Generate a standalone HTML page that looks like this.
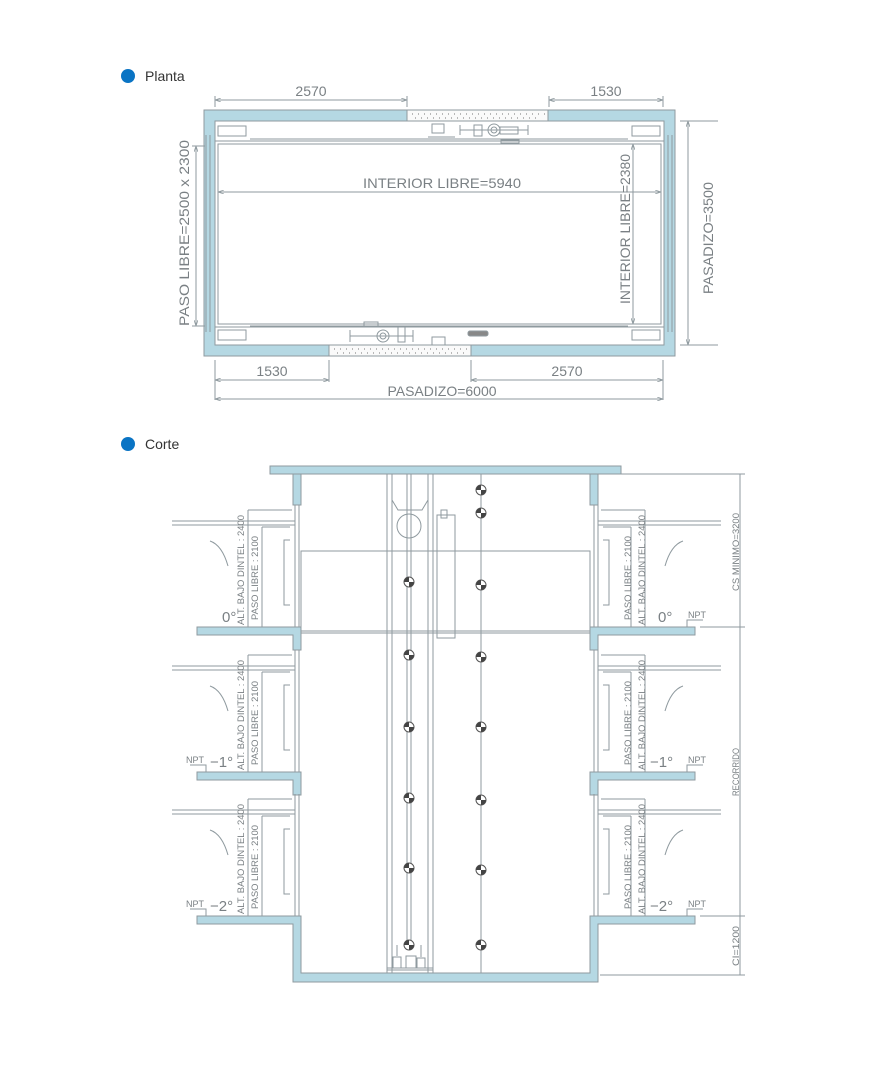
<!DOCTYPE html>
<html><head><meta charset="utf-8"><style>
html,body{margin:0;padding:0;background:#fff;}
svg{display:block}
text{font-family:"Liberation Sans",sans-serif;fill:#7a8084}
</style></head><body>
<svg width="878" height="1091" viewBox="0 0 878 1091" xmlns="http://www.w3.org/2000/svg">
<defs>
<g id="ball"><circle r="5" fill="#fff" stroke="#555"/><path d="M0,0 L5,0 A5,5 0 0 1 0,5 Z M0,0 L-5,0 A5,5 0 0 1 0,-5 Z" fill="#444"/></g>
<marker id="ar" markerWidth="6" markerHeight="4" refX="6" refY="2" orient="auto-start-reverse"><path d="M0,0 L6,2 L0,4" fill="none" stroke="#8f9a9f" stroke-width="0.8"/></marker>
</defs>
<g stroke="#8f9a9f" stroke-width="1" fill="none">
<!-- ================= PLANTA ================= -->
<circle cx="128" cy="76" r="7" fill="#0a74c4" stroke="none"/>
<text x="145" y="81" font-size="14" style="fill:#333" stroke="none">Planta</text>

<path d="M204,110 H407 V121 H215 V345 H329 V356 H204 Z" fill="#b5d8e3"/>
<path d="M548,110 H675 V356 H471 V345 H664 V121 H548 Z" fill="#b5d8e3"/>
<rect x="407" y="110" width="141" height="11" fill="#fafafa"/>
<rect x="329" y="345" width="142" height="11" fill="#fafafa"/>
<g stroke="#777" stroke-width="1" stroke-dasharray="1 5">
<line x1="412" y1="114" x2="545" y2="114"/><line x1="415" y1="118" x2="540" y2="118"/>
<line x1="334" y1="349" x2="468" y2="349"/><line x1="337" y1="353" x2="465" y2="353"/>
</g>
<rect x="218" y="126" width="28" height="10"/><rect x="632" y="126" width="28" height="10"/>
<rect x="218" y="330" width="28" height="10"/><rect x="632" y="330" width="28" height="10"/>
<rect x="215" y="141" width="449" height="186"/>
<rect x="218" y="144" width="443" height="180"/>
<line x1="250" y1="139" x2="628" y2="139"/><line x1="250" y1="326" x2="628" y2="326"/>
<line x1="206" y1="135" x2="206" y2="332"/><line x1="210" y1="135" x2="210" y2="332"/>
<line x1="668" y1="135" x2="668" y2="332"/><line x1="672" y1="135" x2="672" y2="332"/>
<rect x="432" y="124" width="12" height="9"/><line x1="428" y1="137" x2="455" y2="137"/>
<line x1="460" y1="125" x2="460" y2="135"/><line x1="528" y1="125" x2="528" y2="135"/>
<line x1="460" y1="130" x2="528" y2="130"/>
<circle cx="494" cy="130" r="6"/><circle cx="494" cy="130" r="3"/>
<rect x="474" y="125" width="8" height="11"/><rect x="500" y="127" width="18" height="7"/>
<rect x="501" y="140" width="18" height="3"/>
<rect x="364" y="322" width="14" height="4"/>
<line x1="350" y1="330" x2="350" y2="342"/><line x1="413" y1="330" x2="413" y2="342"/>
<line x1="350" y1="336" x2="413" y2="336"/>
<circle cx="383" cy="336" r="6"/><circle cx="383" cy="336" r="3"/>
<rect x="398" y="327" width="7" height="15"/>
<rect x="432" y="337" width="13" height="8"/><line x1="427" y1="327" x2="453" y2="327"/>
<rect x="468" y="331" width="20" height="5" rx="2" fill="#888"/>
<g marker-start="url(#ar)" marker-end="url(#ar)">
<line x1="215" y1="100" x2="407" y2="100"/>
<line x1="549" y1="100" x2="663" y2="100"/>
<line x1="215" y1="380" x2="329" y2="380"/>
<line x1="471" y1="380" x2="663" y2="380"/>
<line x1="215" y1="399" x2="663" y2="399"/>
<line x1="688" y1="121" x2="688" y2="345"/>
<line x1="196" y1="146" x2="196" y2="326"/>
<line x1="218" y1="192" x2="661" y2="192"/>
<line x1="633" y1="144" x2="633" y2="324"/>
</g>
<line x1="215" y1="96" x2="215" y2="107"/><line x1="407" y1="96" x2="407" y2="107"/>
<line x1="549" y1="96" x2="549" y2="107"/><line x1="663" y1="96" x2="663" y2="107"/>
<line x1="215" y1="360" x2="215" y2="400"/><line x1="329" y1="360" x2="329" y2="382"/>
<line x1="471" y1="360" x2="471" y2="382"/><line x1="663" y1="360" x2="663" y2="400"/>
<line x1="680" y1="121" x2="718" y2="121"/><line x1="680" y1="345" x2="718" y2="345"/>
<line x1="192" y1="146" x2="205" y2="146"/><line x1="192" y1="326" x2="205" y2="326"/>
</g>
<g font-size="14" stroke="none">
<text x="311" y="96" text-anchor="middle">2570</text>
<text x="606" y="96" text-anchor="middle">1530</text>
<text x="272" y="376" text-anchor="middle">1530</text>
<text x="567" y="376" text-anchor="middle">2570</text>
<text x="442" y="396" text-anchor="middle">PASADIZO=6000</text>
<text x="442" y="188" text-anchor="middle" textLength="158" lengthAdjust="spacingAndGlyphs">INTERIOR  LIBRE=5940</text>
<text transform="translate(630,229) rotate(-90)" text-anchor="middle" textLength="150" lengthAdjust="spacingAndGlyphs">INTERIOR  LIBRE=2380</text>
<text transform="translate(713,238) rotate(-90)" text-anchor="middle" textLength="112" lengthAdjust="spacingAndGlyphs">PASADIZO=3500</text>
<text transform="translate(189,233) rotate(-90)" text-anchor="middle" textLength="186" lengthAdjust="spacingAndGlyphs">PASO  LIBRE=2500  x  2300</text>
</g>

<!-- ================= CORTE ================= -->
<circle cx="128" cy="444" r="7" fill="#0a74c4" stroke="none"/>
<text x="145" y="449" font-size="14" style="fill:#333" stroke="none">Corte</text>

<g stroke="#8f9a9f" stroke-width="1" fill="#b5d8e3">
<rect x="270" y="466" width="351" height="8"/>
<rect x="293" y="474" width="8" height="31"/><rect x="590" y="474" width="8" height="31"/>
<path d="M197,627 H301 V650 H293 V635 H197 Z"/>
<path d="M695,627 H590 V650 H598 V635 H695 Z"/>
<path d="M197,772 H301 V795 H293 V780 H197 Z"/>
<path d="M695,772 H590 V795 H598 V780 H695 Z"/>
<path d="M197,916 H301 V973 H590 V916 H695 V924 H598 V982 H293 V924 H197 Z"/>
</g>

<g stroke="#8f9a9f" stroke-width="1" fill="none">
<g id="dl">
<line x1="295" y1="505" x2="295" y2="627"/><line x1="299" y1="505" x2="299" y2="627"/>
<line x1="172" y1="521" x2="295" y2="521"/><line x1="172" y1="525" x2="295" y2="525"/>
<path d="M290,540 L284,540 L284,605 L290,605"/>
<path d="M228,566 Q222,545 210,541"/>
<line x1="248" y1="510" x2="248" y2="627"/><line x1="248" y1="510" x2="292" y2="510"/>
<line x1="262" y1="527" x2="262" y2="627"/><line x1="262" y1="527" x2="290" y2="527"/>
</g>
<use href="#dl" transform="translate(0,145)"/>
<use href="#dl" transform="translate(0,289)"/>
<use href="#dl" transform="translate(893,0) scale(-1,1)"/>
<use href="#dl" transform="translate(893,145) scale(-1,1)"/>
<use href="#dl" transform="translate(893,289) scale(-1,1)"/>
<rect x="301" y="551" width="289" height="80"/>
<line x1="301" y1="633" x2="590" y2="633"/>
<line x1="387" y1="474" x2="387" y2="973"/><line x1="392" y1="474" x2="392" y2="973"/>
<line x1="428" y1="474" x2="428" y2="973"/><line x1="433" y1="474" x2="433" y2="973"/>
<line x1="407" y1="474" x2="407" y2="950"/><line x1="411" y1="474" x2="411" y2="950"/>
<line x1="481" y1="474" x2="481" y2="973"/>
<circle cx="409" cy="526" r="12"/>
<path d="M392,500 L398,510 H422 L428,500"/>
<rect x="437" y="515" width="18" height="123"/><rect x="441" y="510" width="6" height="8"/>
<line x1="387" y1="968" x2="433" y2="968"/><line x1="387" y1="970" x2="433" y2="970"/>
<rect x="393" y="957" width="8" height="11"/><rect x="406" y="956" width="10" height="12"/><rect x="417" y="958" width="8" height="10"/>
<line x1="397" y1="945" x2="397" y2="956"/><line x1="421" y1="945" x2="421" y2="957"/>
<line x1="301" y1="631" x2="590" y2="631"/>
<line x1="740" y1="474" x2="740" y2="975"/>
<line x1="600" y1="474" x2="745" y2="474"/>
<line x1="700" y1="627" x2="745" y2="627"/>
<line x1="700" y1="916" x2="745" y2="916"/>
<line x1="600" y1="975" x2="745" y2="975"/>
<path d="M687,627 V620 H703"/><path d="M687,772 V765 H703"/><path d="M687,916 V909 H703"/>
<path d="M206,772 V765 H190"/><path d="M206,916 V909 H190"/>
</g>
<g>
<use href="#ball" x="409" y="582"/><use href="#ball" x="409" y="655"/><use href="#ball" x="409" y="727"/>
<use href="#ball" x="409" y="798"/><use href="#ball" x="409" y="868"/><use href="#ball" x="409" y="945"/>
<use href="#ball" x="481" y="490"/><use href="#ball" x="481" y="513"/><use href="#ball" x="481" y="585"/>
<use href="#ball" x="481" y="657"/><use href="#ball" x="481" y="727"/><use href="#ball" x="481" y="800"/>
<use href="#ball" x="481" y="870"/><use href="#ball" x="481" y="945"/>
</g>
<g font-size="9" stroke="none">
<g id="lt">
<text transform="translate(244,570) rotate(-90)" text-anchor="middle" textLength="110" lengthAdjust="spacingAndGlyphs">ALT. BAJO DINTEL : 2400</text>
<text transform="translate(258,578) rotate(-90)" text-anchor="middle" textLength="84" lengthAdjust="spacingAndGlyphs">PASO LIBRE : 2100</text>
</g>
<use href="#lt" transform="translate(0,145)"/>
<use href="#lt" transform="translate(0,289)"/>
<text transform="translate(631,578) rotate(-90)" text-anchor="middle" textLength="84" lengthAdjust="spacingAndGlyphs">PASO LIBRE : 2100</text>
<text transform="translate(645,570) rotate(-90)" text-anchor="middle" textLength="110" lengthAdjust="spacingAndGlyphs">ALT. BAJO DINTEL : 2400</text>
<text transform="translate(631,723) rotate(-90)" text-anchor="middle" textLength="84" lengthAdjust="spacingAndGlyphs">PASO LIBRE : 2100</text>
<text transform="translate(645,715) rotate(-90)" text-anchor="middle" textLength="110" lengthAdjust="spacingAndGlyphs">ALT. BAJO DINTEL : 2400</text>
<text transform="translate(631,867) rotate(-90)" text-anchor="middle" textLength="84" lengthAdjust="spacingAndGlyphs">PASO LIBRE : 2100</text>
<text transform="translate(645,859) rotate(-90)" text-anchor="middle" textLength="110" lengthAdjust="spacingAndGlyphs">ALT. BAJO DINTEL : 2400</text>
<text transform="translate(739,552) rotate(-90)" text-anchor="middle" textLength="78" lengthAdjust="spacingAndGlyphs">CS MINIMO=3200</text>
<text transform="translate(739,772) rotate(-90)" text-anchor="middle" textLength="48" lengthAdjust="spacingAndGlyphs">RECORRIDO</text>
<text transform="translate(739,946) rotate(-90)" text-anchor="middle" textLength="40" lengthAdjust="spacingAndGlyphs">CI=1200</text>
<text x="688" y="618">NPT</text><text x="688" y="763">NPT</text><text x="688" y="907">NPT</text>
<text x="186" y="763">NPT</text><text x="186" y="907">NPT</text>
</g>
<g font-size="15" stroke="none">
<text x="222" y="622">0°</text>
<text x="210" y="767">−1°</text>
<text x="210" y="911">−2°</text>
<text x="658" y="622">0°</text>
<text x="650" y="767">−1°</text>
<text x="650" y="911">−2°</text>
</g>
</svg>
</body></html>
